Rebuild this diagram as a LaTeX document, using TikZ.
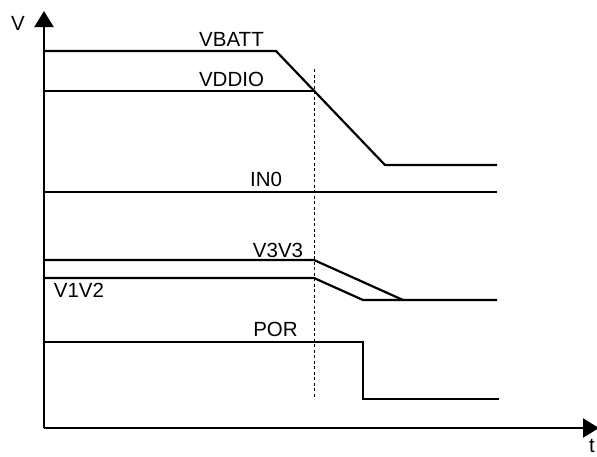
\documentclass[tikz,border=0pt]{standalone}
\usepackage{fontspec}
\setmainfont{Liberation Sans}
\usetikzlibrary{arrows.meta}
\begin{document}
\begin{tikzpicture}[x=1pt,y=-1pt,
  sig/.style={line width=2.2pt,line join=miter},
  axis/.style={line width=2.2pt,-{Triangle[length=16pt,width=19pt]}},
  lbl/.style={inner sep=0pt,font=\fontsize{20.5}{24}\selectfont},
  guide/.style={line width=0.8pt,dash pattern=on 3pt off 2.5pt}]
\useasboundingbox (0,0) rectangle (597,456);
% axes
\coordinate (O) at (44,428);
\coordinate (Ytop) at (44,11);
\coordinate (Xend) at (599,428);
\draw[axis] (O) -- (Ytop);
\draw[axis] (O) -- (Xend);
\node[lbl] (vlab) at (18,23) {V};
\node[lbl] (tlab) at (592,446) {t};
% dashed guide
\coordinate (g1) at (314,69);
\coordinate (g2) at (314,399);
\draw[guide] (g1) -- (g2);
% VBATT
\coordinate (b0) at (44,51);
\coordinate (b1) at (276,51);
\coordinate (b2) at (385,165);
\coordinate (b3) at (497,165);
\draw[sig] (b0) -- (b1) -- (b2) -- (b3);
\node[lbl] (vbatt) at (231.5,39) {VBATT};
% VDDIO
\coordinate (d0) at (44,91);
\coordinate (d1) at (314,91);
\draw[sig] (d0) -- (d1);
\node[lbl] (vddio) at (231.5,79) {VDDIO};
% IN0
\coordinate (i0) at (44,192);
\coordinate (i1) at (497,192);
\draw[sig] (i0) -- (i1);
\node[lbl] (in0) at (266,179.5) {IN0};
% V3V3
\coordinate (a0) at (44,260);
\coordinate (a1) at (314,260);
\coordinate (a2) at (403,300);
\coordinate (a3) at (497,300);
\draw[sig] (a0) -- (a1) -- (a2) -- (a3);
\node[lbl] (v3v3) at (278,250) {V3V3};
% V1V2
\coordinate (c0) at (44,278);
\coordinate (c1) at (314,278);
\coordinate (c2) at (363,300);
\draw[sig] (c0) -- (c1) -- (c2) -- (a2);
\node[lbl] (v1v2) at (79,290.5) {V1V2};
% POR
\coordinate (p0) at (44,342);
\coordinate (p1) at (363,342);
\coordinate (p2) at (363,399);
\coordinate (p3) at (499,399);
\draw[sig] (p0) -- (p1) -- (p2) -- (p3);
\node[lbl] (por) at (275.5,329.5) {POR};
\end{tikzpicture}
\end{document}
